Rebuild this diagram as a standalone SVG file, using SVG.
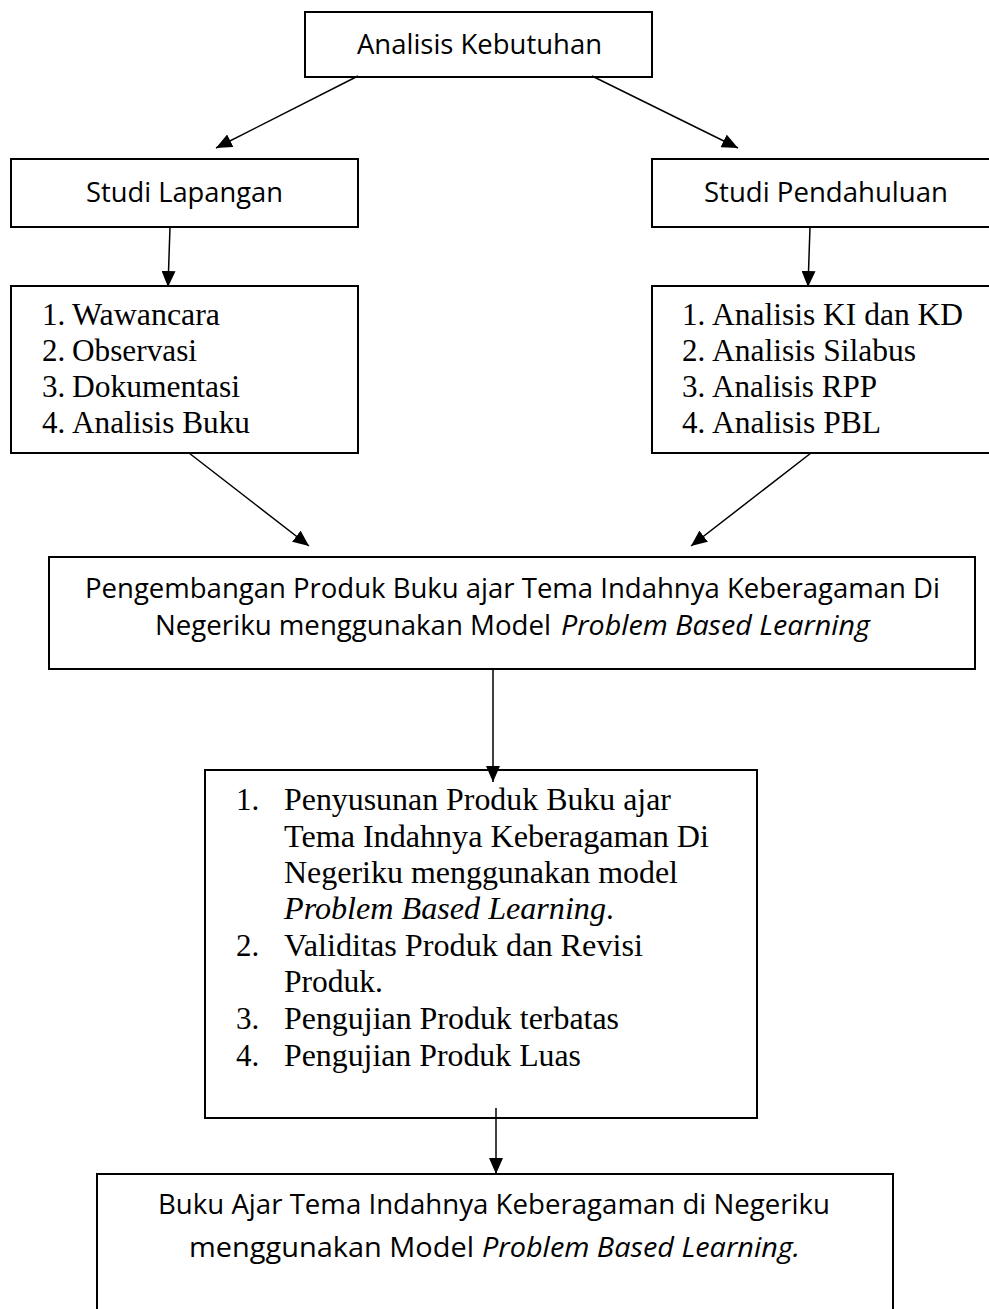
<svg xmlns="http://www.w3.org/2000/svg" width="989" height="1309" viewBox="0 0 989 1309">
<defs>
<marker id="ah" viewBox="0 0 16 14" refX="16" refY="7" markerWidth="16" markerHeight="14" markerUnits="userSpaceOnUse" orient="auto">
<path d="M0,0 L16,7 L0,14 z" fill="#000"/>
</marker>
<style>
.box{fill:#fff;stroke:#000;stroke-width:2}
.sans{font-family:"Open Sans","Noto Sans","Liberation Sans",sans-serif;font-size:27px;fill:#000}
.big{font-size:28px}
.serif{font-family:"Liberation Serif","Times New Roman",serif;font-size:31px;fill:#000}
.it{font-style:italic}
.conn line{stroke:#000;stroke-width:1.5;marker-end:url(#ah)}
</style>
</defs>
<rect width="989" height="1309" fill="#fff"/>

<g id="analisis-kebutuhan">
<rect class="box" x="305" y="12" width="347" height="65"/>
<text class="sans big" x="357" y="54" textLength="245" lengthAdjust="spacingAndGlyphs">Analisis Kebutuhan</text>
</g>

<g id="studi-lapangan">
<rect class="box" x="11" y="159" width="347" height="68"/>
<text class="sans big" x="86" y="202" textLength="197" lengthAdjust="spacingAndGlyphs">Studi Lapangan</text>
</g>

<g id="studi-pendahuluan">
<rect class="box" x="652" y="159" width="345" height="68"/>
<text class="sans big" x="704" y="202" textLength="244" lengthAdjust="spacingAndGlyphs">Studi Pendahuluan</text>
</g>

<g id="list-lapangan">
<rect class="box" x="11" y="286" width="347" height="167"/>
<text class="serif" x="42" y="325">1.</text>
<text class="serif" x="72" y="325" textLength="148" lengthAdjust="spacingAndGlyphs">Wawancara</text>
<text class="serif" x="42" y="361">2.</text>
<text class="serif" x="72" y="361" textLength="125" lengthAdjust="spacingAndGlyphs">Observasi</text>
<text class="serif" x="42" y="397">3.</text>
<text class="serif" x="72" y="397" textLength="168" lengthAdjust="spacingAndGlyphs">Dokumentasi</text>
<text class="serif" x="42" y="433">4.</text>
<text class="serif" x="72" y="433" textLength="178" lengthAdjust="spacingAndGlyphs">Analisis Buku</text>
</g>

<g id="list-pendahuluan">
<rect class="box" x="652" y="286" width="345" height="167"/>
<text class="serif" x="682" y="325">1.</text>
<text class="serif" x="712" y="325" textLength="251" lengthAdjust="spacingAndGlyphs">Analisis KI dan KD</text>
<text class="serif" x="682" y="361">2.</text>
<text class="serif" x="712" y="361" textLength="204" lengthAdjust="spacingAndGlyphs">Analisis Silabus</text>
<text class="serif" x="682" y="397">3.</text>
<text class="serif" x="712" y="397" textLength="165" lengthAdjust="spacingAndGlyphs">Analisis RPP</text>
<text class="serif" x="682" y="433">4.</text>
<text class="serif" x="712" y="433" textLength="169" lengthAdjust="spacingAndGlyphs">Analisis PBL</text>
</g>

<g id="pengembangan">
<rect class="box" x="49" y="557" width="926" height="112"/>
<text class="sans" x="85" y="598" textLength="855" lengthAdjust="spacingAndGlyphs">Pengembangan Produk Buku ajar Tema Indahnya Keberagaman Di</text>
<text class="sans" x="155" y="635" textLength="396" lengthAdjust="spacingAndGlyphs">Negeriku menggunakan Model</text>
<text class="sans it" x="561" y="635" textLength="309" lengthAdjust="spacingAndGlyphs">Problem Based Learning</text>
</g>

<g id="penyusunan">
<rect class="box" x="205" y="770" width="552" height="348"/>
<text class="serif" x="236" y="810">1.</text>
<text class="serif" x="284" y="810" textLength="387" lengthAdjust="spacingAndGlyphs">Penyusunan Produk Buku ajar</text>
<text class="serif" x="284" y="847" textLength="425" lengthAdjust="spacingAndGlyphs">Tema Indahnya Keberagaman Di</text>
<text class="serif" x="284" y="883" textLength="394" lengthAdjust="spacingAndGlyphs">Negeriku menggunakan model</text>
<text class="serif it" x="284" y="919" textLength="322" lengthAdjust="spacingAndGlyphs">Problem Based Learning</text>
<text class="serif" x="606" y="919">.</text>
<text class="serif" x="236" y="956">2.</text>
<text class="serif" x="284" y="956" textLength="359" lengthAdjust="spacingAndGlyphs">Validitas Produk dan Revisi</text>
<text class="serif" x="284" y="992" textLength="99" lengthAdjust="spacingAndGlyphs">Produk.</text>
<text class="serif" x="236" y="1029">3.</text>
<text class="serif" x="284" y="1029" textLength="335" lengthAdjust="spacingAndGlyphs">Pengujian Produk terbatas</text>
<text class="serif" x="236" y="1066">4.</text>
<text class="serif" x="284" y="1066" textLength="297" lengthAdjust="spacingAndGlyphs">Pengujian Produk Luas</text>
</g>

<g id="buku-ajar">
<rect class="box" x="97" y="1174" width="796" height="150"/>
<text class="sans" x="158" y="1214" textLength="672" lengthAdjust="spacingAndGlyphs">Buku Ajar Tema Indahnya Keberagaman di Negeriku</text>
<text class="sans" x="189" y="1257" textLength="285" lengthAdjust="spacingAndGlyphs">menggunakan  Model</text>
<text class="sans it" x="482" y="1257" textLength="318" lengthAdjust="spacingAndGlyphs">Problem Based Learning.</text>
</g>

<g id="connectors" class="conn">
<line x1="358" y1="76" x2="216" y2="148"/>
<line x1="592" y1="76" x2="738" y2="148"/>
<line x1="170" y1="227" x2="168" y2="287"/>
<line x1="810" y1="227" x2="808" y2="287"/>
<line x1="189" y1="453" x2="309" y2="546"/>
<line x1="811" y1="453" x2="691" y2="546"/>
<line x1="493" y1="669" x2="493" y2="782"/>
<line x1="496" y1="1108" x2="496" y2="1174"/>
</g>
</svg>
